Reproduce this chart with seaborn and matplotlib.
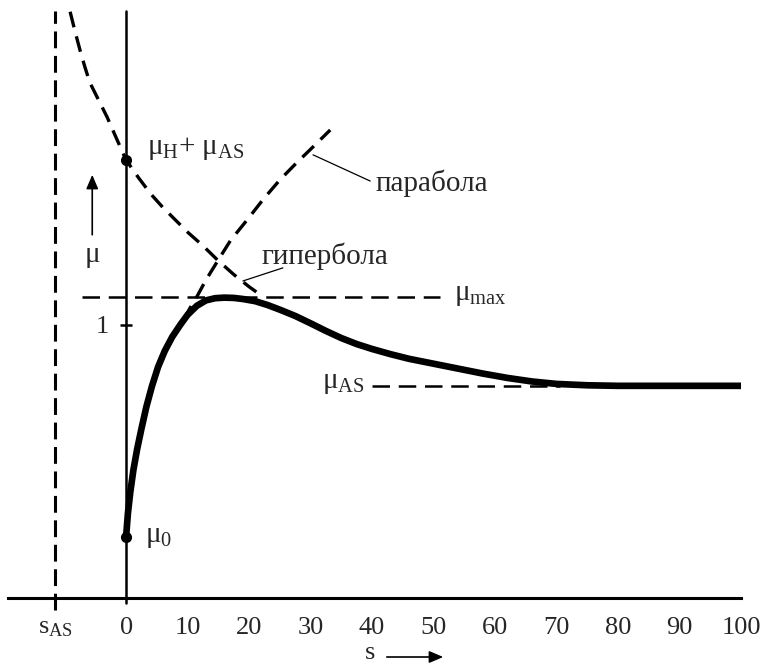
import matplotlib
matplotlib.use("Agg")
import matplotlib.pyplot as plt
import seaborn as sns

# ---- data ----
s_curve = [0, 0.3, 0.7, 1.2, 1.8, 2.5, 3.3, 4.2, 5.2, 6.3, 7.5, 8.8, 10, 11.5, 13,
           14.5, 16, 17.5, 19, 21, 23, 25, 27.5, 30, 32.5, 35, 37.5, 40, 43, 46,
           50, 54, 58, 62, 66, 70, 75, 80, 90, 100]
mu_curve = [0.223, 0.31, 0.39, 0.47, 0.545, 0.62, 0.70, 0.775, 0.846, 0.905, 0.956,
            1.000, 1.037, 1.070, 1.090, 1.098, 1.100, 1.099, 1.095, 1.087, 1.073,
            1.056, 1.033, 1.006, 0.978, 0.952, 0.930, 0.912, 0.893, 0.876, 0.858,
            0.840, 0.822, 0.806, 0.793, 0.784, 0.779, 0.777, 0.777, 0.777]

s_hyper = [-9.1, -8.3, -7.5, -6.7, -5.9, -4.5, -3.1, -1.5, 0, 2.0, 4.0, 6.0, 8.0,
           10.0, 12.5, 15.0, 17.5, 20.0, 22.3]
mu_hyper = [2.147, 2.075, 2.007, 1.945, 1.888, 1.825, 1.762, 1.68, 1.604, 1.54,
            1.48, 1.43, 1.385, 1.34, 1.29, 1.235, 1.185, 1.14, 1.103]

s_parab = [9.3, 10.4, 11.5, 13.0, 14.8, 17.0, 19.7, 22.3, 25.0, 27.7, 30.4, 33.2]
mu_parab = [1.018, 1.062, 1.103, 1.165, 1.231, 1.31, 1.385, 1.46, 1.531, 1.593,
            1.652, 1.714]

s_AS = -11.5
mu_0 = 0.223
mu_H_AS = 1.604
mu_max = 1.103
mu_AS = 0.777
mu_max_span = [-7.2, 51.0]
mu_AS_span = [40.0, 70.5]

x_ticks = [0, 10, 20, 30, 40, 50, 60, 70, 80, 90, 100]
x_tick_labels = [str(v) for v in x_ticks]

# ---- style ----
sns.set_theme(style="white")
plt.rcParams['font.family'] = ['Liberation Serif', 'DejaVu Serif']
plt.rcParams['mathtext.fontset'] = 'custom'
plt.rcParams['mathtext.rm'] = 'Liberation Serif'
plt.rcParams['mathtext.it'] = 'Liberation Serif:italic'

fig = plt.figure(figsize=(7.66, 6.69), dpi=100)
W, H = 766, 669
ax = fig.add_axes([8 / W, (H - 598) / H, (741 - 8) / W, 598 / H])
ax.set_xlim(-19.2, 100)
ax.set_ylim(0, 2.19)

for sp in ['top', 'right', 'left']:
    ax.spines[sp].set_visible(False)
ax.spines['bottom'].set_linewidth(2.2)
ax.spines['bottom'].set_color('black')

ax.set_yticks([])
ax.set_xticks([s_AS] + x_ticks)
ax.set_xticklabels([r's$_{\mathrm{AS}}$'] + x_tick_labels, fontsize=19)
ax.tick_params(axis='x', direction='inout', length=8, width=2, color='black', pad=10)

dash = (0, (4.8, 2.8))

# vertical axis at s = 0
ax.plot([0, 0], [-0.02, 2.15], color='black', lw=1.8, clip_on=False, zorder=3)
# tick "1" on the vertical axis
ax.plot([0], [1], marker='_', markersize=9, mew=1.8, color='black', zorder=4)

# asymptote s_AS
ax.plot([s_AS, s_AS], [-0.045, 2.15], color='black', lw=2.2,
        linestyle=(0, (5.5, 2.5)), clip_on=False)

# mu_max and mu_AS dashed lines
ax.plot(mu_max_span, [mu_max, mu_max], color='black', lw=1.8, linestyle=(0, (7, 3.5)))
ax.plot(mu_AS_span, [mu_AS, mu_AS], color='black', lw=1.8, linestyle=(0, (7, 3.5)))

# hyperbola and parabola
sns.lineplot(x=s_hyper, y=mu_hyper, ax=ax, color='black', lw=2.4,
             linestyle=dash, sort=False, estimator=None)
sns.lineplot(x=s_parab, y=mu_parab, ax=ax, color='black', lw=2.4,
             linestyle=dash, sort=False, estimator=None)

# main curve
sns.lineplot(x=s_curve, y=mu_curve, ax=ax, color='black', lw=4.8,
             sort=False, estimator=None, solid_capstyle='round',
             solid_joinstyle='round')

# points
ax.plot([0, 0], [mu_0, mu_H_AS], 'o', color='black', markersize=7, zorder=5)

# leader lines
ax.plot([30.4, 39.7], [1.623, 1.527], color='black', lw=0.9)
ax.plot([19.0, 25.5], [1.161, 1.209], color='black', lw=0.9)

# labels
fs = 21
ax.text(3.4, 1.645, r'μ$_{\mathrm{H}}$+ μ$_{\mathrm{AS}}$', fontsize=fs, ha='left', va='center')
ax.text(-5.5, 1.255, 'μ', fontsize=fs, ha='center', va='center')
ax.text(-3.9, 0.993, '1', fontsize=19, ha='center', va='center')
ax.text(22.1, 1.25, 'гипербола', fontsize=fs, ha='left', va='center')
ax.text(40.6, 1.52, 'парабола', fontsize=fs, ha='left', va='center')
ax.text(53.3, 1.108, r'μ$_{\mathrm{max}}$', fontsize=fs, ha='left', va='center')
ax.text(38.8, 0.787, r'μ$_{\mathrm{AS}}$', fontsize=fs, ha='right', va='center')
ax.text(3.0, 0.222, r'μ$_{0}$', fontsize=fs, ha='left', va='center')

# mu arrow
ax.annotate('', xy=(-5.5, 1.56), xytext=(-5.5, 1.32),
            arrowprops=dict(arrowstyle='-|>,head_length=0.7,head_width=0.3',
                            color='black', lw=1.2), annotation_clip=False)

# x label with arrow
fig.text(370 / W, (H - 653) / H, 's', fontsize=19, ha='center', va='center')
ax.annotate('', xy=(446, H - 657), xycoords='figure pixels',
            xytext=(384, H - 657), textcoords='figure pixels',
            arrowprops=dict(arrowstyle='-|>,head_length=0.7,head_width=0.3',
                            color='black', lw=1.2), annotation_clip=False)

fig.savefig('out.png', dpi=100)
